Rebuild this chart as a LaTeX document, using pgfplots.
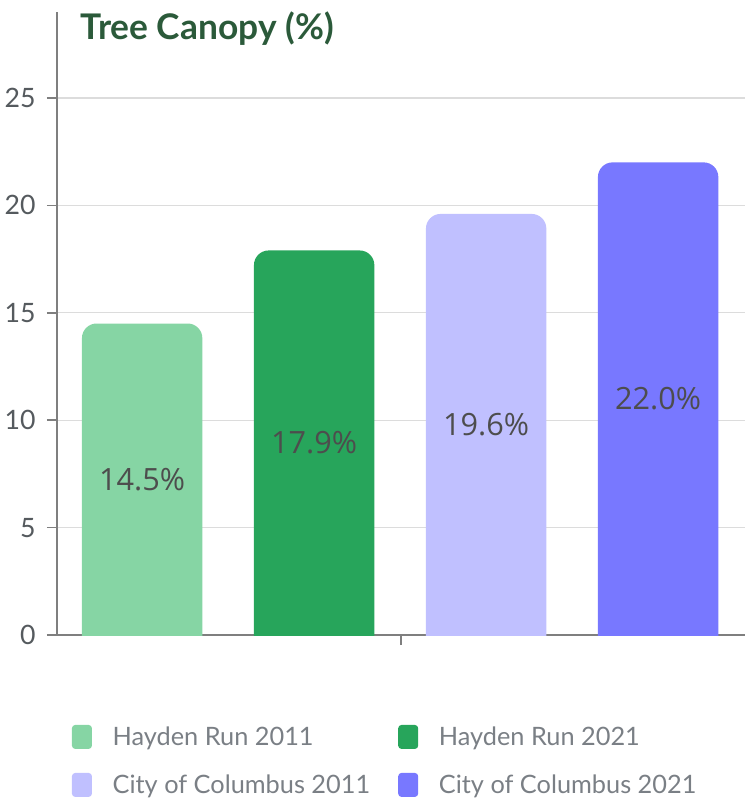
\documentclass[border=0pt]{standalone}
\usepackage{fontspec}
\setmainfont{Lato}
\newfontfamily\opensans{Open Sans}
\usepackage{pgfplots}
\pgfplotsset{compat=1.18}
\definecolor{cA}{HTML}{86D5A4}
\definecolor{cB}{HTML}{27A55B}
\definecolor{cC}{HTML}{C0C0FF}
\definecolor{cD}{HTML}{7878FF}
\definecolor{titlegreen}{HTML}{2B5A3A}
\definecolor{ticktext}{HTML}{555A5E}
\definecolor{gridc}{HTML}{DCDCDC}
\definecolor{axisc}{HTML}{7F7F7F}
\definecolor{labc}{HTML}{4D4D4D}
\definecolor{legc}{HTML}{7A7F85}
\begin{document}
\begin{tikzpicture}
\begin{axis}[
  name=ax,
  scale only axis, width=516pt, height=467.25pt,
  xmin=0, xmax=4, ymin=0, ymax=29,
  axis x line*=bottom, axis y line*=left,
  axis line style={axisc, line width=1.2pt, -},
  ytick={0,5,...,25}, xtick={2}, xticklabels={},
  ymajorgrids, grid style={gridc, line width=1pt},
  tick align=outside, major tick length=7.5pt,
  tick style={axisc, line width=1.2pt},
  yticklabel style={font=\fontsize{20}{22}\selectfont, text=ticktext, xshift=-5pt},
  /pgf/number format/assume math mode=true,
  clip=true,
  title={\bfseries Tree Canopy (\%)},
  title style={at={(0,1)}, anchor=base west, xshift=14pt, yshift=-27pt, font=\fontsize{26.5}{30}\selectfont, text=titlegreen},
  legend columns=2, legend cell align=left,
  legend style={at={(0,0)}, anchor=north west, xshift=11pt, yshift=-66.5pt, draw=none, fill=none, inner sep=0pt, font=\fontsize{19}{22}\selectfont, text=legc, row sep=16.5pt,
    /tikz/every odd column/.append style={column sep=13.5pt},
    /tikz/every even column/.append style={column sep=19pt}},
  legend image code/.code={\fill[#1, rounded corners=2.5pt] (0pt,-9pt) rectangle (15pt,9pt);},
]
\addplot[fill=cA, draw=none, rounded corners=11pt] coordinates {(0.145,-3) (0.145,14.5) (0.845,14.5) (0.845,-3)} -- cycle;
\addplot[fill=cB, draw=none, rounded corners=11pt] coordinates {(1.145,-3) (1.145,17.9) (1.845,17.9) (1.845,-3)} -- cycle;
\addplot[fill=cC, draw=none, rounded corners=11pt] coordinates {(2.145,-3) (2.145,19.6) (2.845,19.6) (2.845,-3)} -- cycle;
\addplot[fill=cD, draw=none, rounded corners=11pt] coordinates {(3.145,-3) (3.145,22.0) (3.845,22.0) (3.845,-3)} -- cycle;
\legend{Hayden Run 2011, Hayden Run 2021, City of Columbus 2011, City of Columbus 2021}
\addplot[forget plot, draw=none, mark=none, nodes near coords, point meta=explicit symbolic,
  nodes near coords style={anchor=center, font=\opensans\fontsize{23}{26}\selectfont, text=labc}]
  coordinates {(0.495,7.25)[14.5\%] (1.495,8.95)[17.9\%] (2.495,9.8)[19.6\%] (3.495,11.0)[22.0\%]};
\end{axis}
\pgfresetboundingbox
\path ([xshift=-42.75pt, yshift=-126.75pt]ax.south west) rectangle ([xshift=4.5pt, yshift=9pt]ax.north east);
\end{tikzpicture}
\end{document}
